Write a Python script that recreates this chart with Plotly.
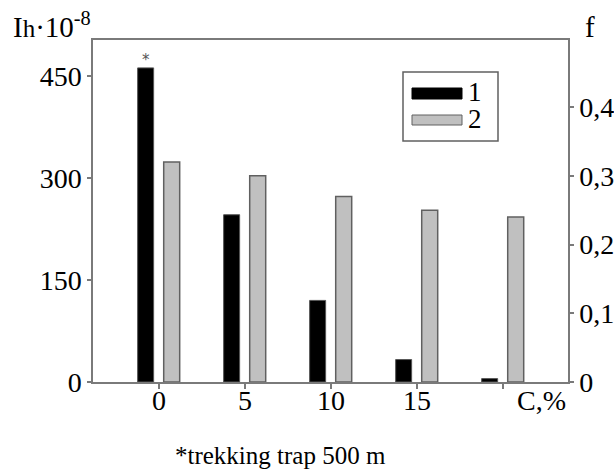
import plotly.graph_objects as go

# ---- data ----
categories = ["0", "5", "10", "15", ""]          # C, % (last group unlabeled)
series1_Ih = [462, 246, 120, 33, 5]              # Ih·10^-8 (left axis)
series2_f = [0.32, 0.30, 0.27, 0.25, 0.24]       # f (right axis)
left_ticks = [0, 150, 300, 450]
right_ticks = [0, 0.1, 0.2, 0.3, 0.4]
right_tick_text = ["0", "0,1", "0,2", "0,3", "0,4"]
legend_labels = ["1", "2"]
caption = "*trekking trap 500 m"

pos = list(range(len(categories)))
FONT = "Liberation Serif"
LINE = "#7a7a7a"

fig = go.Figure()
fig.add_trace(go.Bar(x=pos, y=series1_Ih, width=0.186, offset=-0.248,
                     marker=dict(color="#000000", line=dict(color="#555555", width=1)),
                     name=legend_labels[0], showlegend=False, yaxis="y"))
fig.add_trace(go.Bar(x=pos, y=series2_f, width=0.186, offset=0.055,
                     marker=dict(color="#c0c0c0", line=dict(color="#606060", width=1.5)),
                     name=legend_labels[1], showlegend=False, yaxis="y2"))

W, H = 614, 471
L, R, T, B = 93, 46, 40, 89
pw, ph = W - L - R, H - T - B

def px(xp):
    return (xp - L) / pw

def py(yp):
    return (H - B - yp) / ph

shapes = [
    dict(type="rect", xref="paper", yref="paper", x0=px(403), x1=px(498), y0=py(141), y1=py(72),
         line=dict(color="#606060", width=1.5), fillcolor="white", layer="above"),
    dict(type="rect", xref="paper", yref="paper", x0=px(412), x1=px(462), y0=py(99), y1=py(88),
         line=dict(color="#000000", width=1), fillcolor="#000000"),
    dict(type="rect", xref="paper", yref="paper", x0=px(412), x1=px(462), y0=py(125), y1=py(115),
         line=dict(color="#606060", width=1), fillcolor="#c0c0c0"),
]

annotations = [
    dict(text=legend_labels[0], xref="paper", yref="paper", x=px(466), y=py(92), xanchor="left",
         yanchor="middle", showarrow=False, font=dict(family=FONT, size=27, color="black")),
    dict(text=legend_labels[1], xref="paper", yref="paper", x=px(466), y=py(119), xanchor="left",
         yanchor="middle", showarrow=False, font=dict(family=FONT, size=27, color="black")),
    dict(text="*", xref="x", yref="y", x=pos[0] - 0.155, y=series1_Ih[0], yanchor="bottom",
         showarrow=False, yshift=-3, font=dict(family="DejaVu Sans", size=15, color="#555555")),
    dict(text="I<span style='font-size:25px'>h</span>·10<sup>-8</sup>", xref="paper", yref="paper",
         x=px(11), y=py(45), xanchor="left", yanchor="bottom", showarrow=False,
         font=dict(family=FONT, size=29, color="black")),
    dict(text="f", xref="paper", yref="paper", x=px(590), y=py(45), xanchor="center", yanchor="bottom",
         showarrow=False, font=dict(family=FONT, size=29, color="black")),
    dict(text="C,%", xref="paper", yref="paper", x=1.0, y=py(400), xanchor="right", yanchor="middle",
         showarrow=False, font=dict(family=FONT, size=28, color="black")),
    dict(text=caption, xref="paper", yref="paper", x=px(280), y=py(455), xanchor="center", yanchor="middle",
         showarrow=False, font=dict(family=FONT, size=25, color="black")),
]

fig.update_layout(
    width=W, height=H, margin=dict(l=L, r=R, t=T, b=B, autoexpand=False),
    paper_bgcolor="white", plot_bgcolor="white", barmode="overlay",
    font=dict(family=FONT, size=28, color="black"),
    xaxis=dict(range=[-0.767, 4.756], tickvals=pos, ticktext=categories, showgrid=False, zeroline=False,
               showline=True, linecolor=LINE, linewidth=1.5, mirror=True, ticks="outside",
               ticklen=5, tickcolor=LINE, tickwidth=1.5, ticklabelstandoff=-12,
               tickfont=dict(family=FONT, size=28)),
    yaxis=dict(range=[0, 503], tickvals=left_ticks, showgrid=False, zeroline=False, showline=True,
               linecolor=LINE, linewidth=1.5, ticks="outside", ticklen=4, tickcolor=LINE, tickwidth=1.5,
               tickfont=dict(family=FONT, size=28)),
    yaxis2=dict(range=[0, 0.4975], tickvals=right_ticks, ticktext=right_tick_text, overlaying="y",
                side="right", showgrid=False, zeroline=False, showline=True, linecolor=LINE,
                linewidth=1.5, ticks="outside", ticklen=4, tickcolor=LINE, tickwidth=1.5,
                tickfont=dict(family=FONT, size=28)),
    shapes=shapes, annotations=annotations, showlegend=False,
)

fig.write_html("out.html", config={"displayModeBar": False},
               post_script="document.body.style.margin='0';document.body.style.padding='0';")
